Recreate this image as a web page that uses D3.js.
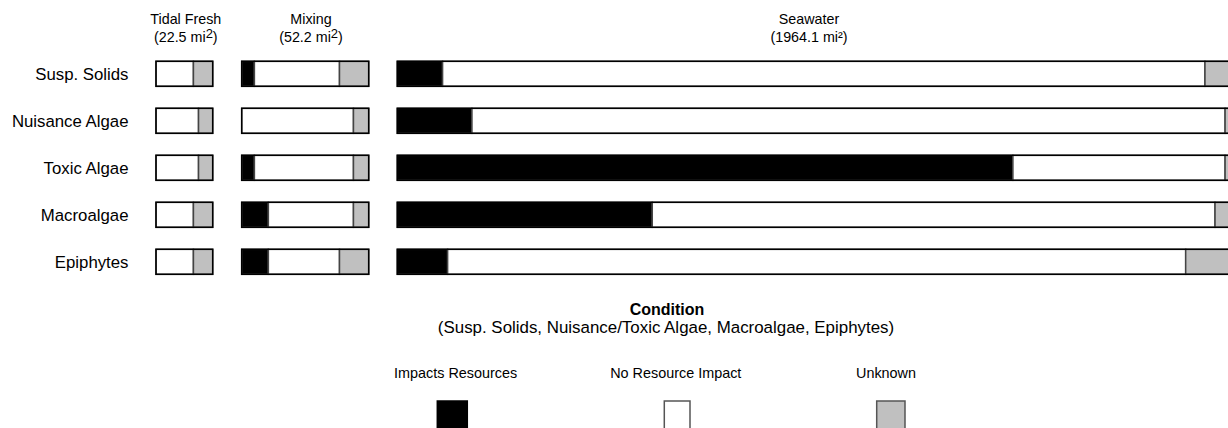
<!DOCTYPE html>
<html lang="en">
<head>
    <meta charset="utf-8">
    <title>Condition by salinity zone</title>
    <script src="https://d3js.org/d3.v7.min.js"></script>
    <style type="text/css">
        body {
            margin: 0;
            background: #fff;
        }
        svg {
            display: block;
            font-family: Arial, "Liberation Sans", sans-serif;
        }
    </style>
</head>
<body>
<script type="text/javascript">

    // data, in % of zone area
    var categories = ["Susp. Solids", "Nuisance Algae", "Toxic Algae", "Macroalgae", "Epiphytes"];
    var zoneNames = ["Tidal Fresh", "Mixing", "Seawater"];
    var zoneAreas = ["22.5", "52.2", "1964.1"];

    var tidalImpacts = [0, 0, 0, 0, 0];
    var tidalNoImpact = [66, 75, 75, 66, 66];
    var tidalUnknown = [34, 25, 25, 34, 34];

    var mixingImpacts = [10, 0, 10, 21, 21];
    var mixingNoImpact = [67, 88, 78, 67, 56];
    var mixingUnknown = [23, 12, 12, 12, 23];

    var seawaterImpacts = [5.4, 8.9, 73.4, 30.4, 6.0];
    var seawaterNoImpact = [90.9, 89.8, 25.3, 67.1, 88.0];
    var seawaterUnknown = [3.7, 1.3, 1.3, 2.5, 6.0];

    var legendLabels = ["Impacts Resources", "No Resource Impact", "Unknown"];
    var legendTitle = "Condition";
    var legendSubtitle = "(Susp. Solids, Nuisance/Toxic Algae, Macroalgae, Epiphytes)";

    var colors = ["#000000", "#ffffff", "#c0c0c0"];

    var width = 1228, height = 428;

    var svg = d3.select("body")
        .append("svg")
        .attr("width", width)
        .attr("height", height);

    // one panel per zone
    var panels = [
        { name: zoneNames[0], area: zoneAreas[0], range: [156, 212.7], labelX: 185.8, sup: "tspan",
          series: [tidalImpacts, tidalNoImpact, tidalUnknown] },
        { name: zoneNames[1], area: zoneAreas[1], range: [241.7, 368.7], labelX: 311, sup: "tspan",
          series: [mixingImpacts, mixingNoImpact, mixingUnknown] },
        { name: zoneNames[2], area: zoneAreas[2], range: [397.3, 1236], labelX: 809, sup: "char",
          series: [seawaterImpacts, seawaterNoImpact, seawaterUnknown] }
    ];

    var y = d3.scaleBand()
        .domain(categories)
        .range([61.3, 274.3])
        .paddingInner(0.468)
        .paddingOuter(0);

    // row labels
    svg.selectAll(".rowLabel")
        .data(categories)
        .enter()
        .append("text")
        .attr("class", "rowLabel")
        .attr("x", 128.5)
        .attr("y", function (d) { return y(d) + y.bandwidth() / 2 + 6; })
        .attr("text-anchor", "end")
        .attr("font-size", 16.8)
        .attr("fill", "#000")
        .text(function (d) { return d; });

    panels.forEach(function (p) {
        var x = d3.scaleLinear().domain([0, 100]).range(p.range);

        // header
        svg.append("text")
            .attr("x", p.labelX)
            .attr("y", 23.5)
            .attr("text-anchor", "middle")
            .attr("font-size", 14.3)
            .text(p.name);

        var t = svg.append("text")
            .attr("x", p.labelX)
            .attr("y", 41.5)
            .attr("text-anchor", "middle")
            .attr("font-size", 14.3);
        if (p.sup == "tspan") {
            t.append("tspan").text("(" + p.area + " mi");
            t.append("tspan").attr("dy", -4).attr("font-size", 13).text("2");
            t.append("tspan").attr("dy", 4).text(")");
        } else {
            t.text("(" + p.area + " mi\u00b2)");
        }

        // stacked segments
        var rows = categories.map(function (c, i) {
            var start = 0;
            return p.series.map(function (s, k) {
                var seg = { cat: c, k: k, x0: start, x1: start + s[i] };
                start += s[i];
                return seg;
            });
        });

        var g = svg.append("g");
        rows.forEach(function (segs, i) {
            g.selectAll(null)
                .data(segs.filter(function (d) { return d.x1 > d.x0; }))
                .enter()
                .append("rect")
                .attr("x", function (d) { return x(d.x0); })
                .attr("y", y(categories[i]))
                .attr("width", function (d) { return x(d.x1) - x(d.x0); })
                .attr("height", y.bandwidth())
                .attr("fill", function (d) { return colors[d.k]; })
                .attr("stroke", "#444")
                .attr("stroke-width", 1.5);

            g.append("rect")
                .attr("x", x(0))
                .attr("y", y(categories[i]))
                .attr("width", x(100) - x(0))
                .attr("height", y.bandwidth())
                .attr("fill", "none")
                .attr("stroke", "#000")
                .attr("stroke-width", 1.5);
        });
    });

    // legend
    svg.append("text")
        .attr("x", 667)
        .attr("y", 315)
        .attr("text-anchor", "middle")
        .attr("font-size", 16)
        .attr("font-weight", "bold")
        .text(legendTitle);

    svg.append("text")
        .attr("x", 666)
        .attr("y", 332.5)
        .attr("text-anchor", "middle")
        .attr("font-size", 16.9)
        .text(legendSubtitle);

    var legendTextX = [455.6, 675.8, 886];
    var legendBoxX = [437.3, 664.3, 876.7];
    var legendBoxW = [30, 25.7, 28.3];

    var leg = svg.selectAll(".legend")
        .data(legendLabels)
        .enter()
        .append("g")
        .attr("class", "legend");

    leg.append("text")
        .attr("x", function (d, i) { return legendTextX[i]; })
        .attr("y", 377.5)
        .attr("text-anchor", "middle")
        .attr("font-size", 14.4)
        .text(function (d) { return d; });

    leg.append("rect")
        .attr("x", function (d, i) { return legendBoxX[i]; })
        .attr("y", 401)
        .attr("width", function (d, i) { return legendBoxW[i]; })
        .attr("height", 40)
        .attr("fill", function (d, i) { return colors[i]; })
        .attr("stroke", function (d, i) { return i == 0 ? "#000" : "#555"; })
        .attr("stroke-width", 1.5);

</script>
</body>
</html>
